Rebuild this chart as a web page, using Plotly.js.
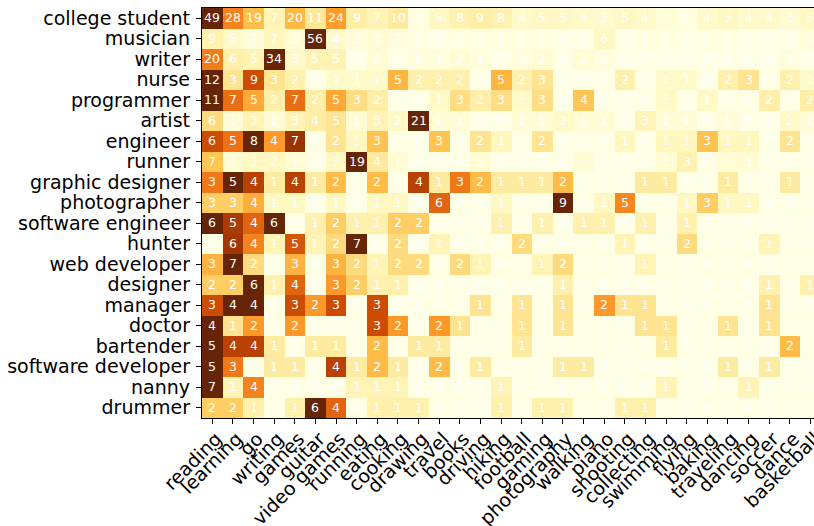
<!DOCTYPE html>
<html>
<head>
<meta charset="utf-8">
<script src="https://cdn.plot.ly/plotly-3.0.1.min.js"></script>
<style>html,body{margin:0;padding:0;background:#fff;}#chart{width:814px;height:526px;}</style>
</head>
<body>
<div id="chart"></div>
<script>
const hobbies = ["reading","learning","go","writing","games","guitar","video games","running","eating","cooking","drawing","travel","books","driving","hiking","football","gaming","photography","walking","piano","shooting","collecting","swimming","flying","baking","traveling","dancing","soccer","dance","basketball"];
const occupations = ["college student","musician","writer","nurse","programmer","artist","engineer","runner","graphic designer","photographer","software engineer","hunter","web developer","designer","manager","doctor","bartender","software developer","nanny","drummer"];
const counts = [
  [49,28,19,7,20,11,24,9,7,10, 1,5,8,9,8,4,5,5,4,3, 5,4,2,1,4,5,4,4,3,5],
  [9,5,2,7,3,56,4,2,3,2, 1,0,1,1,1,1,1,0,0,6, 0,1,1,0,1,1,0,0,0,2],
  [20,6,5,34,3,5,5,0,2,0, 1,1,2,1,0,1,2,0,2,1, 0,0,0,0,0,0,0,0,1,0],
  [12,3,9,3,2,0,1,1,1,5, 2,2,2,0,5,2,3,0,0,0, 2,0,1,1,0,2,3,0,2,1],
  [11,7,5,2,7,2,5,3,2,0, 0,1,3,2,3,1,3,0,4,0, 0,0,1,0,1,0,0,2,0,2],
  [6,1,3,1,3,4,5,1,3,2, 21,1,1,0,0,1,1,2,1,1, 0,3,1,1,0,1,0,0,2,1],
  [6,5,8,4,7,0,2,1,3,0, 0,3,0,2,1,0,2,0,0,0, 1,0,1,1,3,1,1,0,2,0],
  [7,1,2,2,1,0,2,19,4,1, 0,0,0,1,0,0,0,0,1,0, 0,0,1,3,0,1,1,0,0,0],
  [3,5,4,1,4,1,2,0,2,0, 4,1,3,2,1,1,1,2,0,0, 0,1,1,0,0,1,0,0,1,0],
  [3,3,4,1,1,0,1,0,1,1, 0,6,0,0,1,0,0,9,0,1, 5,0,0,1,3,1,1,0,0,0],
  [6,5,4,6,0,1,2,1,1,2, 2,0,0,0,1,0,1,0,1,1, 0,1,0,1,0,0,0,0,0,0],
  [0,6,4,1,5,1,2,7,0,2, 0,1,0,0,0,2,0,0,0,0, 1,0,0,2,0,0,0,1,0,0],
  [3,7,2,0,3,0,3,2,1,2, 2,0,2,1,0,0,1,2,0,0, 0,1,0,0,0,0,0,0,0,0],
  [2,2,6,1,4,0,3,2,1,1, 0,0,0,0,0,0,0,1,0,0, 0,0,0,0,0,0,0,1,0,1],
  [3,4,4,0,3,2,3,0,3,0, 0,0,0,1,0,1,0,1,0,2, 1,1,0,0,0,0,0,1,0,0],
  [4,1,2,0,2,0,0,0,3,2, 0,2,1,0,0,1,0,1,0,0, 0,1,1,0,0,1,0,1,0,0],
  [5,4,4,1,0,1,1,0,2,0, 1,1,0,0,0,1,0,0,0,0, 0,0,1,0,0,0,0,0,2,0],
  [5,3,0,1,1,0,4,1,2,1, 0,2,0,1,0,0,0,1,1,0, 0,0,0,0,0,1,0,1,0,0],
  [7,1,4,0,0,0,0,1,1,1, 0,0,0,0,1,0,0,0,0,0, 0,0,1,0,0,0,1,0,0,0],
  [2,2,1,0,1,6,4,0,1,1, 1,0,0,0,1,0,1,1,0,0, 1,1,0,0,0,0,0,0,0,0]
];

// row-normalised colour values; labels show raw counts
const zNorm = counts.map(r => { const m = Math.max(...r); return r.map(v => v / m); });

const ylorbr = [
  [0.0,'#ffffe5'],[0.125,'#fff7bc'],[0.25,'#fee391'],[0.375,'#fec44f'],
  [0.5,'#fe9929'],[0.625,'#ec7014'],[0.75,'#cc4c02'],[0.875,'#993404'],[1.0,'#662506']
];

const trace = {
  type: 'heatmap',
  x: hobbies,
  y: occupations,
  z: zNorm,
  text: counts,
  texttemplate: '%{text}',
  textfont: {family: 'DejaVu Sans', size: 12.5, color: 'white'},
  colorscale: ylorbr,
  zmin: 0, zmax: 1,
  showscale: false,
  hoverinfo: 'none'
};

const font = {family: 'DejaVu Sans', size: 19, color: 'black'};
const layout = {
  width: 814, height: 526,
  margin: {l: 202, r: 0, t: 8, b: 108, pad: 0},
  paper_bgcolor: 'white', plot_bgcolor: 'white',
  font: font,
  xaxis: {
    type: 'category',
    range: [-0.5, 29.17],
    tickmode: 'array', tickvals: hobbies, ticktext: hobbies,
    tickangle: -45,
    ticks: 'outside', ticklen: 5, tickwidth: 1, tickcolor: 'black',
    ticklabelshift: 4, ticklabelstandoff: -4,
    showline: true, linecolor: 'black', linewidth: 1.2, mirror: true,
    showgrid: false, zeroline: false,
    tickfont: font
  },
  yaxis: {
    type: 'category',
    range: [19.5, -0.5],
    tickmode: 'array', tickvals: occupations, ticktext: occupations,
    ticks: 'outside', ticklen: 5, tickwidth: 1, tickcolor: 'black',
    ticklabelstandoff: 2,
    showline: true, linecolor: 'black', linewidth: 1.2, mirror: false,
    showgrid: false, zeroline: false,
    tickfont: font
  }
};

Plotly.newPlot('chart', [trace], layout, {displayModeBar: false, staticPlot: true});
</script>
</body>
</html>
